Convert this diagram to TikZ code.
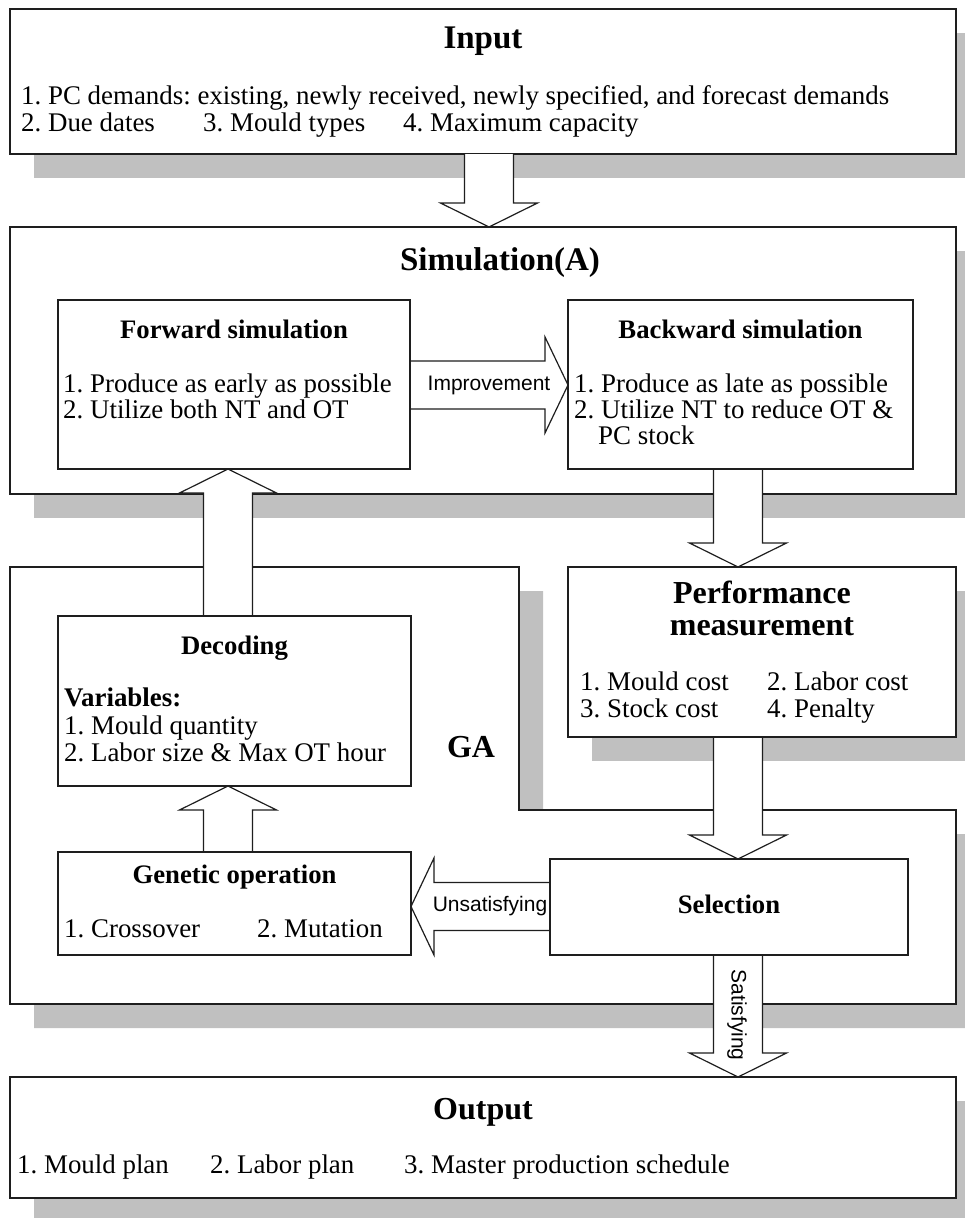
\documentclass[tikz,border=0pt]{standalone}
\usepackage{fontspec}
\setmainfont{Liberation Serif}
\newfontfamily\labelsans{Liberation Sans}
\usetikzlibrary{calc,shadows}
\definecolor{shadowgray}{HTML}{C0C0C0}
\definecolor{edge}{HTML}{1E1E1E}
\frenchspacing

% Hollow block arrows: #1 = position of the arrow axis, #2 = source node, #3 = target node
\newcommand\blkdown[3]{%
  \draw[blockarrow] let \p0=(#1,0), \p1=(#2.south), \p2=(#3.north) in
    (\x0-24.5pt,\y1) -- (\x0-24.5pt,\y2+24pt) -- (\x0-48.5pt,\y2+24pt) -- (\x0,\y2)
    -- (\x0+48.5pt,\y2+24pt) -- (\x0+24.5pt,\y2+24pt) -- (\x0+24.5pt,\y1);}
\newcommand\blkup[3]{%
  \draw[blockarrow] let \p0=(#1,0), \p1=(#2.north), \p2=(#3.south) in
    (\x0-24.5pt,\y1) -- (\x0-24.5pt,\y2-24pt) -- (\x0-48.5pt,\y2-24pt) -- (\x0,\y2)
    -- (\x0+48.5pt,\y2-24pt) -- (\x0+24.5pt,\y2-24pt) -- (\x0+24.5pt,\y1);}
\newcommand\blkright[3]{%
  \draw[blockarrow] let \p0=(0,#1), \p1=(#2.east), \p2=(#3.west) in
    (\x1,\y0+24pt) -- (\x2-23pt,\y0+24pt) -- (\x2-23pt,\y0+48pt) -- (\x2,\y0)
    -- (\x2-23pt,\y0-48pt) -- (\x2-23pt,\y0-24pt) -- (\x1,\y0-24pt);}
\newcommand\blkleft[3]{%
  \draw[blockarrow] let \p0=(0,#1), \p1=(#2.west), \p2=(#3.east) in
    (\x1,\y0+24pt) -- (\x2+23pt,\y0+24pt) -- (\x2+23pt,\y0+48.5pt) -- (\x2,\y0)
    -- (\x2+23pt,\y0-48.5pt) -- (\x2+23pt,\y0-24pt) -- (\x1,\y0-24pt);}

\begin{document}
\begin{tikzpicture}[x=1pt,y=-1pt,
  box/.style={draw=edge, line width=1.2pt, fill=white, rectangle, inner sep=0pt, outer sep=0pt},
  frame/.style={draw=edge, line width=1.2pt, fill=white, line join=miter},
  shadowed/.style={general shadow={fill=shadowgray, shadow xshift=24pt, shadow yshift=-24pt}},
  blockarrow/.style={draw=edge, line width=1.2pt, fill=white, line join=miter},
  bigtitle/.style={font=\fontsize{33}{36}\selectfont\bfseries, inner sep=0pt, anchor=base},
  subtitle/.style={font=\fontsize{26.7}{28}\selectfont\bfseries, inner sep=0pt, anchor=base},
  item/.style={font=\fontsize{26.9}{28}\selectfont, inner sep=0pt, anchor=base west},
  tag/.style={font=\labelsans\fontsize{21}{24}\selectfont, inner sep=0pt},
]
\clip (0,0) rectangle (965,1218);

% ---- outer blocks with drop shadows ----
\node[box, shadowed, minimum width=946pt, minimum height=145pt] (input) at (483,81.5) {};
\node[box, shadowed, minimum width=946pt, minimum height=267pt] (sim) at (483,360.5) {};
\draw[frame, shadowed] (10,567) -- (519,567) -- (519,810) -- (956,810) -- (956,1004) -- (10,1004) -- cycle;
\node[box, shadowed, minimum width=946pt, minimum height=121pt] (output) at (483,1137.5) {};
\node[box, shadowed, minimum width=388pt, minimum height=170pt] (perf) at (762,652) {};

% ---- inner blocks (placed first so the arrows can refer to them) ----
\path
  node[box, minimum width=352pt, minimum height=169pt] (fwd) at (234,384.5) {}
  node[box, minimum width=345pt, minimum height=169pt] (bwd) at (740.5,384.5) {}
  node[box, minimum width=353pt, minimum height=170pt] (dec) at (234.5,701) {}
  node[box, minimum width=353pt, minimum height=103pt] (gen) at (234.5,903.5) {}
  node[box, minimum width=358pt, minimum height=96pt] (sel) at (729,907) {};

% ---- block arrows ----
\blkdown{489}{input}{sim}
\blkright{385}{fwd}{bwd}
\blkdown{738}{bwd}{perf}
\blkdown{738}{perf}{sel}
\blkleft{906.5}{sel}{gen}
\blkup{228}{gen}{dec}
\blkup{228}{dec}{fwd}
\blkdown{738}{sel}{output}

% inner blocks redrawn on top of the arrow ends
\foreach \n in {fwd,bwd,dec,gen,sel,perf}
  \draw[edge, line width=1.2pt] (\n.north west) rectangle (\n.south east);

% ---- texts ----
\node[bigtitle] (t-input) at (483,48) {Input};
\node[item] (i-in1) at (21,104) {1. PC demands: existing, newly received, newly specified, and forecast demands};
\node[item] (i-in2) at (21,131) {2. Due dates};
\node[item] (i-in3) at (203,131) {3. Mould types};
\node[item] (i-in4) at (403,131) {4. Maximum capacity};

\node[bigtitle] (t-sim) at (500,270) {Simulation(A)};

\node[subtitle] (t-fwd) at (234,338) {Forward simulation};
\node[item] (i-fwd1) at (63,392) {1. Produce as early as possible};
\node[item] (i-fwd2) at (63,418) {2. Utilize both NT and OT};

\node[subtitle] (t-bwd) at (740.5,338) {Backward simulation};
\node[item] (i-bwd1) at (574,392) {1. Produce as late as possible};
\node[item] (i-bwd2) at (574,418) {2. Utilize NT to reduce OT \&};
\node[item] (i-bwd3) at (598,444) {PC stock};

\node[bigtitle, font=\fontsize{32}{36}\selectfont\bfseries] (t-perf1) at (762,603) {Performance};
\node[bigtitle, font=\fontsize{32}{36}\selectfont\bfseries] (t-perf2) at (762,635) {measurement};
\node[item] (i-perf1) at (580,690) {1. Mould cost};
\node[item] (i-perf2) at (767,690) {2. Labor cost};
\node[item] (i-perf3) at (580,717) {3. Stock cost};
\node[item] (i-perf4) at (767,717) {4. Penalty};

\node[bigtitle, font=\fontsize{32}{36}\selectfont\bfseries] (t-ga) at (471,757) {GA};

\node[subtitle] (t-dec) at (234.5,654) {Decoding};
\node[item, font=\fontsize{26.9}{28}\selectfont\bfseries] (i-dec0) at (64,706) {Variables:};
\node[item] (i-dec1) at (64,734) {1. Mould quantity};
\node[item] (i-dec2) at (64,761) {2. Labor size \& Max OT hour};

\node[subtitle] (t-gen) at (234.5,883) {Genetic operation};
\node[item] (i-gen1) at (64,937.5) {1. Crossover};
\node[item] (i-gen2) at (257,937.5) {2. Mutation};

\node[subtitle] (t-sel) at (729,913) {Selection};

\node[bigtitle, font=\fontsize{32}{36}\selectfont\bfseries] (t-out) at (483,1119) {Output};
\node[item] (i-out1) at (17,1173) {1. Mould plan};
\node[item] (i-out2) at (210,1173) {2. Labor plan};
\node[item] (i-out3) at (404,1173) {3. Master production schedule};

% ---- arrow labels ----
\node[tag] (l-imp) at (489,385) {Improvement};
\node[tag] (l-uns) at (490,906.5) {Unsatisfying};
\node[tag, rotate=-90] (l-sat) at (737,1015) {Satisfying};
\end{tikzpicture}
\end{document}
